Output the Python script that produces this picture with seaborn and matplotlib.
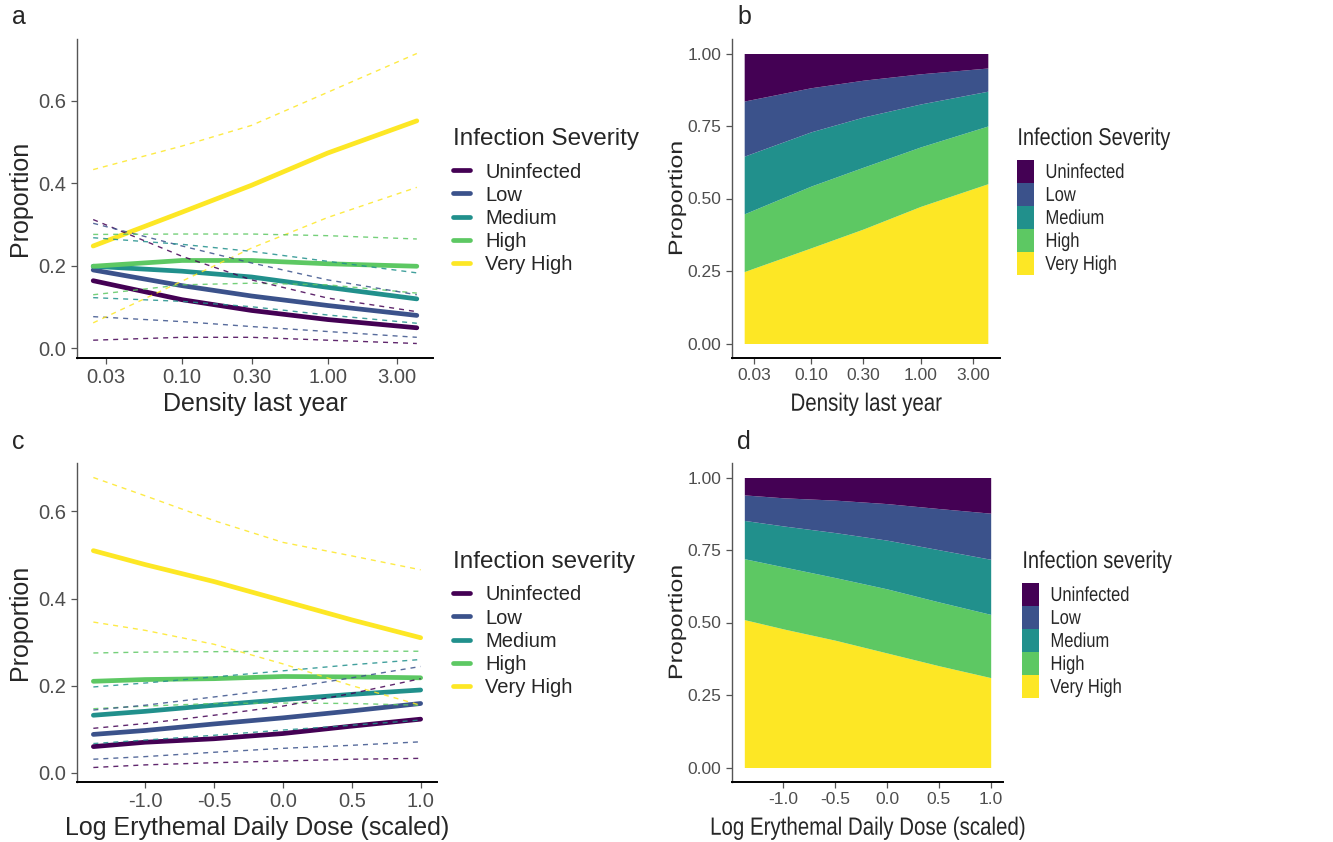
import numpy as np
import pandas as pd
import seaborn as sb
import matplotlib.pyplot as plt
from matplotlib.lines import Line2D
from matplotlib.patches import Patch
from matplotlib import patheffects as pe
from matplotlib.transforms import Affine2D

# severity levels and viridis colours
levels = ['Uninfected', 'Low', 'Medium', 'High', 'Very High']
colors = ['#440154', '#3B528B', '#21908C', '#5DC863', '#FDE725']

# panel a / b : density last year (log axis)
density = [0.0245, 0.1, 0.3, 1.0, 4.1]
dens_fit = {
    'Uninfected': [0.164, 0.118, 0.092, 0.070, 0.050],
    'Low':        [0.190, 0.152, 0.127, 0.104, 0.080],
    'Medium':     [0.199, 0.187, 0.173, 0.148, 0.120],
    'High':       [0.199, 0.213, 0.213, 0.205, 0.199],
    'Very High':  [0.248, 0.330, 0.395, 0.473, 0.551],
}
dens_low = {
    'Uninfected': [0.020, 0.027, 0.027, 0.020, 0.012],
    'Low':        [0.077, 0.065, 0.053, 0.041, 0.027],
    'Medium':     [0.123, 0.114, 0.101, 0.081, 0.061],
    'High':       [0.130, 0.154, 0.158, 0.154, 0.134],
    'Very High':  [0.062, 0.163, 0.243, 0.317, 0.390],
}
dens_high = {
    'Uninfected': [0.312, 0.223, 0.166, 0.122, 0.089],
    'Low':        [0.303, 0.248, 0.207, 0.166, 0.130],
    'Medium':     [0.268, 0.252, 0.235, 0.211, 0.183],
    'High':       [0.276, 0.277, 0.277, 0.273, 0.265],
    'Very High':  [0.433, 0.490, 0.540, 0.620, 0.714],
}

# panel c / d : log erythemal daily dose (scaled)
dose = [-1.376, -1.0, -0.5, 0.0, 0.5, 1.0]
dose_fit = {
    'Uninfected': [0.060, 0.070, 0.078, 0.090, 0.107, 0.123],
    'Low':        [0.088, 0.097, 0.112, 0.126, 0.142, 0.159],
    'Medium':     [0.132, 0.141, 0.155, 0.168, 0.180, 0.190],
    'High':       [0.210, 0.214, 0.216, 0.221, 0.220, 0.218],
    'Very High':  [0.510, 0.478, 0.439, 0.395, 0.351, 0.310],
}
dose_low = {
    'Uninfected': [0.012, 0.018, 0.023, 0.027, 0.031, 0.033],
    'Low':        [0.031, 0.037, 0.047, 0.056, 0.063, 0.071],
    'Medium':     [0.067, 0.075, 0.086, 0.098, 0.109, 0.121],
    'High':       [0.147, 0.153, 0.159, 0.160, 0.159, 0.155],
    'Very High':  [0.346, 0.327, 0.295, 0.250, 0.200, 0.155],
}
dose_high = {
    'Uninfected': [0.102, 0.113, 0.132, 0.153, 0.182, 0.216],
    'Low':        [0.144, 0.155, 0.174, 0.193, 0.218, 0.244],
    'Medium':     [0.197, 0.206, 0.220, 0.234, 0.248, 0.260],
    'High':       [0.275, 0.277, 0.278, 0.279, 0.279, 0.279],
    'Very High':  [0.678, 0.636, 0.579, 0.529, 0.498, 0.466],
}


def long_df(x, fit, lo, hi):
    rows = []
    for lev in levels:
        for i, xv in enumerate(x):
            rows.append({'x': xv, 'sev': lev, 'fit': fit[lev][i],
                         'lo': lo[lev][i], 'hi': hi[lev][i]})
    return pd.DataFrame(rows)


df_dens = long_df(density, dens_fit, dens_low, dens_high)
df_dose = long_df(dose, dose_fit, dose_low, dose_high)

sb.set_theme(style='ticks')
plt.rcParams['font.family'] = ['Liberation Sans', 'DejaVu Sans']

pal = dict(zip(levels, colors))
fig = plt.figure(figsize=(13.33, 8.42), dpi=100)

W, H = 1333, 842


# right hand panels of the original are squeezed sideways, text included
class Squeeze(pe.AbstractPathEffect):
    def __init__(self, sx=0.82, sy=1.0, anchor=0.0):
        super().__init__()
        self.sx = sx
        self.sy = sy
        self.anchor = anchor

    def draw_path(self, renderer, gc, tpath, affine, rgbFace=None):
        ext = tpath.get_extents()
        x0 = ext.x0 + self.anchor * ext.width
        y0 = ext.y0
        t = Affine2D().translate(-x0, -y0).scale(self.sx, self.sy).translate(x0, y0)
        renderer.draw_path(gc, tpath, t + affine, rgbFace)


def box(l, r, t, b):
    return [l / W, 1 - b / H, (r - l) / W, (b - t) / H]


def style_axes(ax, ylab_x, squeeze):
    sb.despine(ax=ax)
    ax.spines['bottom'].set_color('black')
    ax.spines['bottom'].set_linewidth(1.4)
    ax.spines['left'].set_color('#555555')
    ax.spines['left'].set_linewidth(1.0)
    ax.tick_params(axis='both', colors='#555555', labelcolor='#4D4D4D',
                   labelsize=12.5 if squeeze else 14.5, length=4, width=0.9)
    ax.set_ylabel('Proportion', fontsize=18)
    ax.yaxis.set_label_coords(ylab_x, 0.5)
    if squeeze:
        ax.xaxis.label.set_path_effects([Squeeze(0.82, 1.0, 0.5)])
        ax.yaxis.label.set_path_effects([Squeeze(1.0, 0.78, 0.5)])


def line_panel(ax, df):
    sb.lineplot(data=df, x='x', y='fit', hue='sev', palette=pal,
                hue_order=levels, lw=3.4, legend=False, ax=ax)
    for col in ['lo', 'hi']:
        for lev in levels:
            sub = df[df.sev == lev]
            sb.lineplot(x=sub['x'], y=sub[col], color=pal[lev], lw=1.0,
                        alpha=0.85, legend=False, ax=ax)
            ax.lines[-1].set_dashes((3.6, 3.6))
    ax.margins(x=0.05, y=0.05)
    ax.set_yticks([0.0, 0.2, 0.4, 0.6])
    ax.set_yticklabels(['0.0', '0.2', '0.4', '0.6'])


def area_panel(ax, x, fit):
    stack = np.zeros(len(x))
    for lev in levels[::-1]:
        top = stack + np.array(fit[lev])
        ax.fill_between(x, stack, top, color=pal[lev], lw=0)
        stack = top
    ax.margins(x=0.05, y=0.05)
    ax.set_yticks([0.0, 0.25, 0.5, 0.75, 1.0])
    ax.set_yticklabels(['0.00', '0.25', '0.50', '0.75', '1.00'])


dens_ticks = [0.03, 0.1, 0.3, 1.0, 3.0]
dens_labels = ['0.03', '0.10', '0.30', '1.00', '3.00']
dose_ticks = [-1.0, -0.5, 0.0, 0.5, 1.0]
dose_labels = ['-1.0', '-0.5', '0.0', '0.5', '1.0']

# a
ax_a = fig.add_axes(box(77, 433, 39, 358))
ax_a.set_xscale('log')
line_panel(ax_a, df_dens)
ax_a.set_xticks(dens_ticks)
ax_a.set_xticklabels(dens_labels)
ax_a.minorticks_off()
ax_a.set_xlabel('Density last year', fontsize=18, labelpad=3)
style_axes(ax_a, -0.126, False)

# b
ax_b = fig.add_axes(box(732, 1000, 39, 358))
ax_b.set_xscale('log')
area_panel(ax_b, density, dens_fit)
ax_b.set_xticks(dens_ticks)
ax_b.set_xticklabels(dens_labels)
ax_b.minorticks_off()
ax_b.set_xlabel('Density last year', fontsize=18, labelpad=6)
style_axes(ax_b, -0.172, True)

# c
ax_c = fig.add_axes(box(77, 437, 463, 782))
line_panel(ax_c, df_dose)
ax_c.set_xticks(dose_ticks)
ax_c.set_xticklabels(dose_labels)
ax_c.set_xlabel('Log Erythemal Daily Dose (scaled)', fontsize=18, labelpad=3)
style_axes(ax_c, -0.125, False)

# d
ax_d = fig.add_axes(box(732, 1003, 463, 782))
area_panel(ax_d, dose, dose_fit)
ax_d.set_xticks(dose_ticks)
ax_d.set_xticklabels(dose_labels)
ax_d.set_xlabel('Log Erythemal Daily Dose (scaled)', fontsize=18, labelpad=6)
style_axes(ax_d, -0.170, True)

# legends
line_handles = [Line2D([], [], color=c, lw=3.4) for c in colors]
patch_handles = [Patch(facecolor=c, edgecolor='none') for c in colors]


def add_legend(ax, handles, title, x, y, patches):
    kw = dict(loc='upper left', bbox_to_anchor=(x / W, 1 - y / H),
              bbox_transform=fig.transFigure, frameon=False,
              borderpad=0, borderaxespad=0, alignment='left',
              fontsize=14.5, title_fontsize=17.5)
    if patches:
        kw.update(handlelength=0.85, handleheight=1.38, labelspacing=0.0,
                  handletextpad=0.55)
    else:
        kw.update(handlelength=0.85, labelspacing=0.2, handletextpad=0.75)
    leg = ax.legend(handles, levels, title=title, **kw)
    if patches:
        leg._legend_box.sep = 7
        for t in leg.get_texts():
            t.set_path_effects([Squeeze(0.82, 1.0, 0.0)])
        leg.get_title().set_path_effects([Squeeze(0.82, 1.0, 0.0)])
    else:
        leg._legend_box.sep = 9


add_legend(ax_a, line_handles, 'Infection Severity', 453, 128, False)
add_legend(ax_b, patch_handles, 'Infection Severity', 1017, 128, True)
add_legend(ax_c, line_handles, 'Infection severity', 453, 551, False)
add_legend(ax_d, patch_handles, 'Infection severity', 1022, 551, True)

# panel letters
for lab, x, y in [('a', 12, 17), ('b', 737, 17), ('c', 12, 442), ('d', 737, 442)]:
    fig.text(x / W, 1 - y / H, lab, fontsize=18, va='center', ha='left')

plt.savefig('out.png', dpi=100)
